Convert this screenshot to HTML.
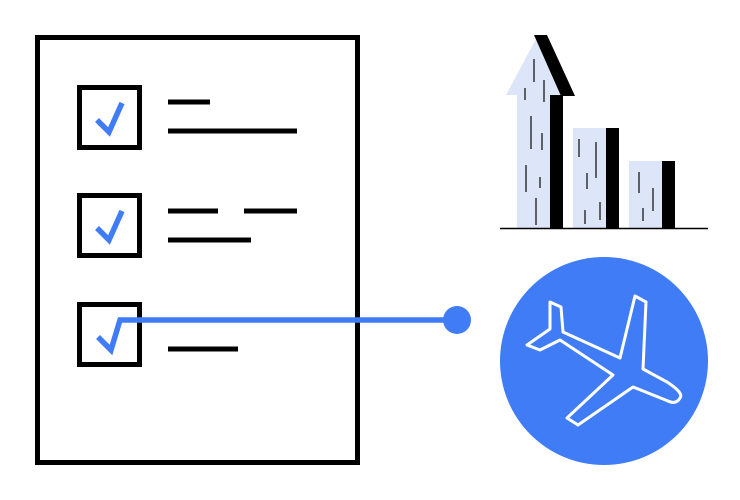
<!DOCTYPE html>
<html><head><meta charset="utf-8"><style>html,body{margin:0;padding:0;background:#fff}svg{display:block}</style></head>
<body>
<svg width="740" height="500" viewBox="0 0 740 500" xmlns="http://www.w3.org/2000/svg">
<rect x="37.5" y="37.5" width="320" height="425" fill="none" stroke="#000" stroke-width="5"/>
<g fill="none" stroke="#000" stroke-width="5">
<rect x="79.5" y="87.5" width="60" height="60"/>
<rect x="79.5" y="195.5" width="60" height="60"/>
<rect x="79.5" y="304.5" width="60" height="60"/>
<line x1="168" y1="102" x2="210" y2="102"/>
<line x1="168" y1="131" x2="297" y2="131"/>
<line x1="168" y1="211" x2="218" y2="211"/>
<line x1="244" y1="211" x2="297" y2="211"/>
<line x1="168" y1="240" x2="251" y2="240"/>
<line x1="168" y1="349" x2="238" y2="349"/>
</g>
<g fill="none" stroke="#3f7cf6" stroke-width="5.5">
<polyline points="97,120 109,132 122,103"/>
<polyline points="97,228 109,240 122,211"/>
<polyline points="98,337 111,350 120,320 456,320"/>
</g>
<circle cx="457" cy="320" r="14" fill="#3f7cf6"/>
<g fill="#dce6f8">
<polygon points="506,95 537,37 562,95 550,95 550,228 517,228 517,95"/>
<rect x="573" y="128" width="33" height="100"/>
<rect x="629" y="161" width="33" height="67"/>
</g>
<g fill="#000">
<polygon points="534,35 547,35 575,96 561,96"/>
<rect x="550" y="95" width="13" height="133"/>
<rect x="606" y="128" width="13" height="100"/>
<rect x="662" y="161" width="13" height="67"/>
</g>
<line x1="500" y1="228.5" x2="708" y2="228.5" stroke="#000" stroke-width="1.5"/>
<g stroke="#333" stroke-width="1.5">
<line x1="534" y1="59" x2="534" y2="82"/><line x1="525" y1="88" x2="525" y2="100"/>
<line x1="544" y1="80" x2="544" y2="102"/><line x1="531" y1="116" x2="531" y2="149"/>
<line x1="542" y1="133" x2="542" y2="150"/><line x1="526" y1="165" x2="526" y2="192"/>
<line x1="540" y1="177" x2="540" y2="188"/><line x1="536" y1="198" x2="536" y2="225"/>
<line x1="579" y1="139" x2="579" y2="157"/><line x1="596" y1="142" x2="596" y2="178"/>
<line x1="587" y1="173" x2="587" y2="189"/><line x1="600" y1="202" x2="600" y2="220"/>
<line x1="585" y1="210" x2="585" y2="224"/>
<line x1="639" y1="172" x2="639" y2="193"/><line x1="653" y1="188" x2="653" y2="211"/>
<line x1="643" y1="208" x2="643" y2="221"/>
</g>
<circle cx="604" cy="361" r="104" fill="#3f7cf6"/>
<path d="M550,302 L561,307 L563,332 L620,358 L635,296 L646,302 L643,369 L667,382 Q684,393 680,398 Q676,405 668,401 L633,387 L578,425 L567,418 L613,375 L560,340 L540,350 L527,345 L550,329 Z" fill="none" stroke="#fff" stroke-width="3" stroke-linejoin="round"/>
</svg>
</body></html>
